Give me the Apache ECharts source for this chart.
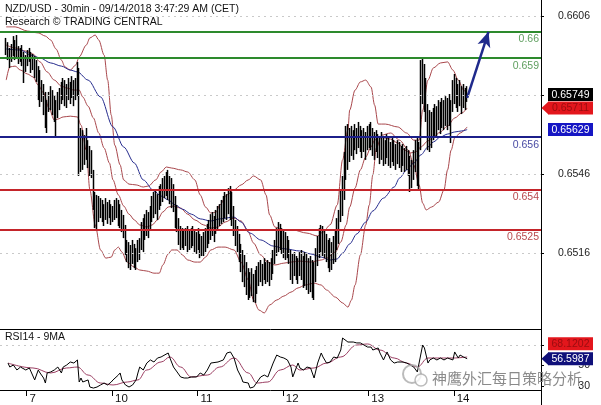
<!DOCTYPE html>
<html>
<head>
<meta charset="utf-8">
<script src="https://cdn.jsdelivr.net/npm/echarts@6/dist/echarts.min.js"></script>
<style>
html, body { margin: 0; padding: 0; background: #fff; }
#chart { width: 601px; height: 405px; }
</style>
</head>
<body>
<div id="chart"></div>
<script>
// ---- NZD/USD 30-minute bars (CET), first bar 09/06 18:00 ----
const firstBarTime = '09/06 18:00';
const firstOpen = 0.65960;

const highs = [
  0.65977, 0.65961, 0.65939, 0.65954, 0.65984, 0.65969, 0.65988, 0.65946, 0.65939, 0.65950,
  0.65924, 0.65912, 0.65931, 0.65939, 0.65924, 0.65916, 0.65908, 0.65893, 0.65870, 0.65855,
  0.65817, 0.65802, 0.65772, 0.65741, 0.65772, 0.65794, 0.65779, 0.65760, 0.65741, 0.65772,
  0.65787, 0.65810, 0.65825, 0.65817, 0.65802, 0.65825, 0.65810, 0.65832, 0.65817, 0.65825,
  0.65886, 0.65863, 0.65635, 0.65627, 0.65608, 0.65635, 0.65589, 0.65567, 0.65551, 0.65476,
  0.65392, 0.65381, 0.65377, 0.65369, 0.65362, 0.65346, 0.65369, 0.65354, 0.65362, 0.65346,
  0.65339, 0.65362, 0.65369, 0.65362, 0.65346, 0.65324, 0.65305, 0.65267, 0.65210, 0.65202,
  0.65191, 0.65210, 0.65195, 0.65179, 0.65210, 0.65217, 0.65278, 0.65293, 0.65308, 0.65324,
  0.65316, 0.65339, 0.65377, 0.65392, 0.65400, 0.65384, 0.65415, 0.65422, 0.65445, 0.65453,
  0.65468, 0.65476, 0.65453, 0.65445, 0.65422, 0.65377, 0.65343, 0.65293, 0.65263, 0.65255,
  0.65248, 0.65255, 0.65263, 0.65248, 0.65255, 0.65263, 0.65248, 0.65240, 0.65255, 0.65233,
  0.65225, 0.65240, 0.65255, 0.65271, 0.65286, 0.65308, 0.65316, 0.65301, 0.65324, 0.65339,
  0.65346, 0.65362, 0.65377, 0.65392, 0.65384, 0.65407, 0.65415, 0.65392, 0.65339, 0.65286,
  0.65263, 0.65233, 0.65195, 0.65172, 0.65153, 0.65126, 0.65103, 0.65088, 0.65103, 0.65081,
  0.65096, 0.65111, 0.65126, 0.65134, 0.65119, 0.65141, 0.65126, 0.65134, 0.65126, 0.65141,
  0.65172, 0.65210, 0.65255, 0.65278, 0.65271, 0.65255, 0.65248, 0.65240, 0.65225, 0.65210,
  0.65172, 0.65157, 0.65164, 0.65149, 0.65141, 0.65164, 0.65172, 0.65149, 0.65164, 0.65157,
  0.65141, 0.65149, 0.65134, 0.65126, 0.65179, 0.65225, 0.65255, 0.65267, 0.65263, 0.65248,
  0.65233, 0.65210, 0.65217, 0.65202, 0.65225, 0.65248, 0.65293, 0.65324, 0.65400, 0.65453,
  0.65544, 0.65643, 0.65650, 0.65635, 0.65643, 0.65627, 0.65650, 0.65635, 0.65658, 0.65643,
  0.65627, 0.65635, 0.65620, 0.65643, 0.65650, 0.65658, 0.65635, 0.65620, 0.65627, 0.65612,
  0.65605, 0.65620, 0.65605, 0.65589, 0.65612, 0.65597, 0.65582, 0.65597, 0.65589, 0.65574,
  0.65589, 0.65582, 0.65567, 0.65574, 0.65559, 0.65567, 0.65551, 0.65529, 0.65514, 0.65551,
  0.65589, 0.65597, 0.65582, 0.65893, 0.65901, 0.65878, 0.65825, 0.65726, 0.65703, 0.65696,
  0.65711, 0.65726, 0.65718, 0.65741, 0.65734, 0.65749, 0.65741, 0.65756, 0.65749, 0.65764,
  0.65741, 0.65817, 0.65840, 0.65825, 0.65802, 0.65817, 0.65794, 0.65802, 0.65787, 0.65794
];

const lows = [
  0.65912, 0.65893, 0.65863, 0.65886, 0.65908, 0.65893, 0.65901, 0.65878, 0.65886, 0.65870,
  0.65806, 0.65848, 0.65870, 0.65886, 0.65844, 0.65855, 0.65825, 0.65810, 0.65741, 0.65715,
  0.65734, 0.65684, 0.65635, 0.65616, 0.65696, 0.65703, 0.65684, 0.65658, 0.65597, 0.65673,
  0.65703, 0.65726, 0.65741, 0.65718, 0.65711, 0.65741, 0.65726, 0.65749, 0.65718, 0.65741,
  0.65756, 0.65453, 0.65468, 0.65476, 0.65495, 0.65514, 0.65483, 0.65453, 0.65445, 0.65324,
  0.65255, 0.65248, 0.65278, 0.65293, 0.65278, 0.65263, 0.65286, 0.65271, 0.65293, 0.65267,
  0.65278, 0.65286, 0.65293, 0.65263, 0.65255, 0.65240, 0.65217, 0.65153, 0.65126, 0.65103,
  0.65096, 0.65119, 0.65103, 0.65096, 0.65126, 0.65134, 0.65172, 0.65164, 0.65210, 0.65225,
  0.65217, 0.65248, 0.65278, 0.65293, 0.65308, 0.65286, 0.65324, 0.65339, 0.65354, 0.65369,
  0.65377, 0.65362, 0.65346, 0.65331, 0.65316, 0.65255, 0.65240, 0.65191, 0.65172, 0.65179,
  0.65172, 0.65187, 0.65164, 0.65172, 0.65179, 0.65187, 0.65164, 0.65157, 0.65172, 0.65141,
  0.65149, 0.65149, 0.65164, 0.65179, 0.65195, 0.65210, 0.65225, 0.65202, 0.65233, 0.65248,
  0.65263, 0.65271, 0.65278, 0.65293, 0.65286, 0.65308, 0.65286, 0.65263, 0.65225, 0.65187,
  0.65164, 0.65126, 0.65088, 0.65050, 0.65031, 0.65001, 0.64982, 0.64990, 0.64997, 0.64974,
  0.64971, 0.65005, 0.65035, 0.65050, 0.65035, 0.65058, 0.65043, 0.65050, 0.65035, 0.65058,
  0.65081, 0.65119, 0.65149, 0.65164, 0.65172, 0.65157, 0.65141, 0.65134, 0.65141, 0.65119,
  0.65058, 0.65043, 0.65073, 0.65058, 0.65043, 0.65073, 0.65058, 0.65028, 0.65035, 0.65020,
  0.65005, 0.65012, 0.64990, 0.64982, 0.65050, 0.65111, 0.65141, 0.65164, 0.65149, 0.65141,
  0.65126, 0.65103, 0.65088, 0.65096, 0.65119, 0.65126, 0.65172, 0.65195, 0.65278, 0.65301,
  0.65362, 0.65438, 0.65476, 0.65506, 0.65529, 0.65514, 0.65551, 0.65536, 0.65559, 0.65544,
  0.65521, 0.65544, 0.65514, 0.65551, 0.65559, 0.65551, 0.65529, 0.65514, 0.65544, 0.65521,
  0.65498, 0.65514, 0.65491, 0.65498, 0.65521, 0.65491, 0.65483, 0.65506, 0.65491, 0.65476,
  0.65498, 0.65483, 0.65468, 0.65491, 0.65468, 0.65476, 0.65453, 0.65392, 0.65407, 0.65438,
  0.65468, 0.65415, 0.65400, 0.65551, 0.65726, 0.65696, 0.65658, 0.65551, 0.65544, 0.65559,
  0.65589, 0.65605, 0.65597, 0.65627, 0.65612, 0.65635, 0.65627, 0.65643, 0.65627, 0.65643,
  0.65578, 0.65696, 0.65726, 0.65711, 0.65696, 0.65718, 0.65688, 0.65711, 0.65703, 0.65734
];

const closes = [
  0.65950, 0.65924, 0.65901, 0.65931, 0.65946, 0.65924, 0.65931, 0.65912, 0.65924, 0.65901,
  0.65855, 0.65886, 0.65908, 0.65916, 0.65886, 0.65893, 0.65855, 0.65848, 0.65787, 0.65760,
  0.65779, 0.65741, 0.65673, 0.65696, 0.65741, 0.65756, 0.65718, 0.65703, 0.65673, 0.65726,
  0.65756, 0.65772, 0.65787, 0.65760, 0.65749, 0.65779, 0.65772, 0.65794, 0.65764, 0.65787,
  0.65855, 0.65551, 0.65570, 0.65533, 0.65551, 0.65589, 0.65533, 0.65495, 0.65468, 0.65362,
  0.65305, 0.65324, 0.65343, 0.65331, 0.65316, 0.65308, 0.65339, 0.65308, 0.65331, 0.65301,
  0.65316, 0.65339, 0.65331, 0.65301, 0.65286, 0.65263, 0.65248, 0.65191, 0.65172, 0.65141,
  0.65126, 0.65153, 0.65134, 0.65141, 0.65172, 0.65195, 0.65248, 0.65255, 0.65278, 0.65293,
  0.65271, 0.65316, 0.65343, 0.65362, 0.65369, 0.65346, 0.65377, 0.65392, 0.65407, 0.65422,
  0.65430, 0.65415, 0.65400, 0.65377, 0.65362, 0.65308, 0.65278, 0.65225, 0.65210, 0.65217,
  0.65210, 0.65225, 0.65210, 0.65202, 0.65225, 0.65233, 0.65202, 0.65195, 0.65217, 0.65179,
  0.65187, 0.65195, 0.65217, 0.65240, 0.65255, 0.65271, 0.65286, 0.65263, 0.65293, 0.65308,
  0.65316, 0.65339, 0.65346, 0.65362, 0.65339, 0.65369, 0.65354, 0.65316, 0.65271, 0.65240,
  0.65210, 0.65172, 0.65126, 0.65096, 0.65073, 0.65050, 0.65028, 0.65043, 0.65050, 0.65020,
  0.65035, 0.65058, 0.65088, 0.65096, 0.65073, 0.65103, 0.65081, 0.65096, 0.65073, 0.65111,
  0.65141, 0.65179, 0.65217, 0.65233, 0.65225, 0.65210, 0.65187, 0.65179, 0.65172, 0.65149,
  0.65103, 0.65088, 0.65126, 0.65103, 0.65088, 0.65119, 0.65111, 0.65073, 0.65096, 0.65065,
  0.65050, 0.65073, 0.65043, 0.65028, 0.65111, 0.65172, 0.65210, 0.65225, 0.65202, 0.65187,
  0.65172, 0.65149, 0.65134, 0.65141, 0.65172, 0.65195, 0.65248, 0.65286, 0.65362, 0.65400,
  0.65495, 0.65589, 0.65597, 0.65589, 0.65605, 0.65567, 0.65612, 0.65589, 0.65620, 0.65597,
  0.65567, 0.65597, 0.65559, 0.65605, 0.65612, 0.65605, 0.65574, 0.65559, 0.65589, 0.65567,
  0.65551, 0.65567, 0.65544, 0.65551, 0.65574, 0.65536, 0.65529, 0.65559, 0.65536, 0.65521,
  0.65551, 0.65529, 0.65514, 0.65536, 0.65514, 0.65521, 0.65491, 0.65438, 0.65468, 0.65506,
  0.65551, 0.65514, 0.65551, 0.65848, 0.65855, 0.65741, 0.65703, 0.65605, 0.65627, 0.65635,
  0.65650, 0.65673, 0.65658, 0.65688, 0.65665, 0.65696, 0.65680, 0.65703, 0.65688, 0.65711,
  0.65696, 0.65772, 0.65787, 0.65756, 0.65741, 0.65772, 0.65741, 0.65756, 0.65749, 0.65749
];

// ---- Indicators as [bar number, value] ----
const bbUpper = [[0,0.66019],[5,0.66019],[12,0.66003],[18,0.65996],[22,0.65984],[25,0.65969],[28,0.65935],[31,0.65893],[33,0.65867],[36,0.65855],[39,0.65874],[41,0.65905],[45,0.65950],[47,0.65977],[50,0.65988],[52,0.65969],[55,0.65912],[57,0.65817],[59,0.65684],[61,0.65570],[64,0.65495],[66,0.65438],[69,0.65422],[73,0.65419],[77,0.65411],[80,0.65415],[84,0.65438],[87,0.65468],[90,0.65487],[93,0.65483],[98,0.65476],[102,0.65468],[106,0.65438],[109,0.65381],[112,0.65335],[115,0.65312],[118,0.65316],[120,0.65343],[124,0.65381],[128,0.65400],[132,0.65419],[136,0.65438],[139,0.65453],[143,0.65438],[146,0.65381],[148,0.65305],[151,0.65259],[156,0.65248],[161,0.65248],[169,0.65236],[175,0.65225],[178,0.65240],[182,0.65267],[186,0.65343],[189,0.65514],[192,0.65627],[193,0.65703],[196,0.65779],[199,0.65810],[202,0.65817],[205,0.65791],[207,0.65722],[209,0.65650],[213,0.65650],[220,0.65639],[225,0.65616],[229,0.65589],[232,0.65589],[234,0.65703],[237,0.65817],[240,0.65863],[244,0.65882],[248,0.65886],[251,0.65855],[254,0.65817],[257,0.65779],[259,0.65764]];

const bbMiddle = [[0,0.65950],[5,0.65939],[11,0.65927],[15,0.65916],[19,0.65886],[23,0.65848],[27,0.65817],[31,0.65794],[34,0.65787],[38,0.65779],[41,0.65779],[43,0.65753],[46,0.65718],[49,0.65673],[52,0.65616],[55,0.65559],[58,0.65502],[60,0.65438],[63,0.65381],[66,0.65339],[69,0.65308],[72,0.65286],[75,0.65267],[79,0.65259],[82,0.65267],[85,0.65286],[88,0.65316],[91,0.65335],[94,0.65339],[98,0.65331],[102,0.65308],[106,0.65286],[111,0.65267],[115,0.65255],[119,0.65259],[123,0.65278],[128,0.65293],[132,0.65282],[136,0.65240],[139,0.65198],[143,0.65153],[147,0.65126],[151,0.65115],[156,0.65122],[160,0.65126],[165,0.65130],[171,0.65126],[177,0.65134],[180,0.65141],[185,0.65164],[188,0.65202],[191,0.65267],[193,0.65335],[196,0.65407],[199,0.65476],[202,0.65525],[205,0.65563],[207,0.65589],[210,0.65601],[216,0.65593],[220,0.65578],[224,0.65551],[227,0.65540],[230,0.65544],[233,0.65563],[237,0.65586],[240,0.65601],[244,0.65620],[248,0.65643],[252,0.65673],[256,0.65692],[259,0.65711]];

const bbLower = [[0,0.65817],[2,0.65867],[5,0.65870],[8,0.65855],[12,0.65840],[15,0.65829],[18,0.65798],[21,0.65768],[24,0.65711],[27,0.65665],[29,0.65669],[32,0.65677],[36,0.65680],[40,0.65677],[42,0.65646],[45,0.65551],[47,0.65400],[50,0.65267],[53,0.65172],[56,0.65141],[59,0.65145],[61,0.65172],[63,0.65183],[65,0.65164],[68,0.65126],[72,0.65107],[75,0.65096],[79,0.65092],[83,0.65084],[86,0.65084],[88,0.65115],[91,0.65157],[93,0.65172],[96,0.65172],[99,0.65153],[102,0.65134],[106,0.65126],[109,0.65126],[112,0.65145],[115,0.65172],[119,0.65183],[123,0.65183],[128,0.65172],[132,0.65126],[136,0.65058],[139,0.64982],[142,0.64944],[145,0.64933],[148,0.64963],[152,0.64982],[156,0.64997],[160,0.65012],[164,0.65028],[168,0.65039],[173,0.65046],[177,0.65039],[180,0.65020],[185,0.64993],[189,0.64971],[192,0.64955],[194,0.64982],[196,0.65039],[199,0.65153],[202,0.65267],[204,0.65343],[206,0.65457],[208,0.65559],[211,0.65608],[216,0.65616],[221,0.65589],[226,0.65551],[229,0.65495],[232,0.65419],[234,0.65350],[236,0.65324],[239,0.65335],[243,0.65354],[246,0.65400],[248,0.65476],[250,0.65551],[252,0.65597],[255,0.65616],[259,0.65639]];

const movingAvg = [[0,0.65935],[8,0.65931],[14,0.65912],[19,0.65901],[25,0.65882],[31,0.65870],[36,0.65855],[40,0.65848],[46,0.65817],[53,0.65753],[60,0.65639],[66,0.65563],[72,0.65502],[77,0.65438],[83,0.65396],[87,0.65377],[91,0.65362],[95,0.65343],[99,0.65327],[104,0.65308],[109,0.65290],[115,0.65282],[120,0.65290],[128,0.65297],[132,0.65278],[137,0.65236],[143,0.65210],[150,0.65187],[157,0.65176],[165,0.65168],[171,0.65157],[177,0.65145],[182,0.65134],[186,0.65138],[189,0.65160],[193,0.65195],[197,0.65233],[202,0.65278],[206,0.65320],[212,0.65369],[218,0.65411],[221,0.65445],[225,0.65476],[229,0.65502],[233,0.65533],[237,0.65563],[240,0.65582],[244,0.65601],[248,0.65612],[252,0.65620],[256,0.65624],[259,0.65629]];

const rsi14 = [[1,52.4],[2,48.5],[4,50.5],[6,45.6],[8,48.5],[11,45.6],[13,47.6],[14,43.7],[16,35.9],[18,45.6],[19,42.7],[21,37.8],[22,32.9],[23,42.7],[25,43.7],[27,45.6],[29,48.5],[31,42.7],[32,48.5],[34,50.5],[36,53.4],[38,52.4],[40,55.4],[41,33.9],[42,37.8],[43,33.9],[46,35.9],[47,29.0],[49,28.0],[51,29.0],[53,31.0],[55,32.9],[57,31.0],[59,33.9],[60,35.9],[63,40.7],[64,42.7],[65,35.9],[67,31.0],[69,29.0],[71,31.0],[73,35.9],[74,42.7],[75,48.5],[77,45.6],[79,52.4],[81,55.4],[83,53.4],[85,57.3],[87,58.3],[88,60.2],[91,62.2],[92,57.3],[94,48.5],[96,43.7],[98,38.8],[100,37.8],[102,37.8],[104,38.8],[105,40.7],[107,38.8],[109,42.7],[111,40.7],[113,45.6],[115,52.4],[116,50.5],[119,53.4],[120,52.4],[122,55.4],[124,62.2],[126,63.2],[128,57.3],[130,45.6],[132,38.8],[133,33.9],[136,32.9],[137,28.0],[139,29.0],[141,33.9],[143,38.8],[145,40.7],[147,38.8],[148,40.7],[150,52.4],[152,60.2],[154,58.3],[156,57.3],[158,55.4],[160,48.5],[161,38.8],[164,52.4],[165,47.6],[167,45.6],[169,48.5],[171,47.6],[173,37.8],[175,52.4],[177,62.2],[178,58.3],[180,52.4],[182,53.4],[184,58.3],[186,57.3],[188,65.1],[189,76.8],[192,72.9],[193,72.0],[195,72.9],[197,72.0],[199,72.0],[201,70.0],[203,68.0],[205,68.0],[206,65.1],[209,67.1],[210,62.2],[212,55.4],[214,63.2],[216,55.4],[218,52.4],[220,53.4],[221,52.4],[223,53.4],[225,52.4],[227,50.5],[229,48.5],[231,43.7],[232,45.6],[234,70.0],[235,67.1],[237,52.4],[238,55.4],[240,57.3],[242,55.4],[244,57.3],[246,55.4],[248,57.3],[251,55.4],[252,63.2],[254,57.3],[255,60.2],[257,58.3],[259,56.5987]];

const rsiMa9 = [[1,52.4],[15,47.6],[25,42.7],[34,47.6],[40,48.5],[46,40.7],[53,32.9],[60,31.0],[68,33.9],[74,35.9],[79,45.6],[87,53.4],[92,58.3],[98,48.5],[104,38.8],[113,40.7],[120,48.5],[128,57.3],[136,42.7],[141,32.9],[147,33.9],[154,45.6],[161,50.5],[165,45.6],[173,47.6],[180,52.4],[188,58.3],[197,70.0],[203,71.0],[210,65.1],[218,57.3],[225,52.4],[231,48.5],[237,57.3],[244,57.3],[251,57.3],[259,58.3]];

// ---- Levels, ticks, tags ----
const levels = [0.66, 0.659, 0.656, 0.654, 0.6525];
const levelLineColors = ['#2d8a2d', '#2d8a2d', '#1c1f8a', '#c4242a', '#c4242a'];
const levelTextColors = ['#5f9f5f', '#5f9f5f', '#4a4ca4', '#b84a4e', '#b84a4e'];
const priceTicks = [0.6516, 0.6546, 0.6576, 0.6606];
const rsiTicks = [30, 50, 70];
const rsiUpperTag = 68.1202;
const targetPrice = 0.66;
const targetBarsAhead = 12;

// ---- Time slots: 30-minute steps, weekends skipped ----
function pad(n) { return String(n).padStart(2, '0'); }
function buildSlots(startMs, count) {
  const out = [];
  let t = startMs;
  while (out.length < count) {
    const d = new Date(t);
    const wd = d.getUTCDay();
    if (wd !== 0 && wd !== 6) {
      out.push(pad(d.getUTCMonth() + 1) + '/' + pad(d.getUTCDate()) + ' ' + pad(d.getUTCHours()) + ':' + pad(d.getUTCMinutes()));
    }
    t += 30 * 60 * 1000;
  }
  return out;
}
const slots = buildSlots(Date.UTC(2018, 8, 6, 16, 30), 304);
const offset = slots.indexOf(firstBarTime);
const lastBar = offset + closes.length - 1;

const candles = slots.map((_, k) => {
  const i = k - offset;
  if (i < 0 || i >= closes.length) return '-';
  const open = i ? closes[i - 1] : firstOpen;
  return [open, closes[i], lows[i], highs[i]];
});
const shift = pts => pts.map(p => [p[0] + offset, p[1]]);

const FONT = '"Liberation Sans", Arial, sans-serif';
const isDayStart = (idx, val) => idx <= lastBar && /00:00$/.test(val);

const chart = echarts.init(document.getElementById('chart'), null, { renderer: 'canvas' });

const bandLine = (name, data) => ({
  name, type: 'line', data: shift(data), xAxisIndex: 0, yAxisIndex: 0,
  showSymbol: false, smooth: 0.3, smoothMonotone: 'x', silent: true,
  lineStyle: { color: '#a9474c', width: 1 }, z: 2
});

const option = {
  animation: false,
  backgroundColor: '#fff',
  grid: [
    { left: 0, right: 60, top: 0, height: 329 },
    { left: 0, right: 60, top: 329, height: 61 }
  ],
  xAxis: [
    {
      type: 'category', gridIndex: 0, data: slots, boundaryGap: true,
      axisLine: { lineStyle: { color: '#000', width: 1 } },
      axisTick: { show: false }, axisLabel: { show: false }, splitLine: { show: false }
    },
    {
      type: 'category', gridIndex: 1, data: slots, boundaryGap: true,
      axisLine: { lineStyle: { color: '#000', width: 1 } },
      axisTick: { show: true, interval: isDayStart, length: 6, lineStyle: { color: '#000' } },
      axisLabel: {
        interval: isDayStart, align: 'left', padding: [0, 0, 0, 2], margin: 3,
        formatter: v => String(parseInt(v.slice(3, 5), 10)),
        color: '#111', fontSize: 11.5, fontFamily: FONT
      },
      splitLine: { show: false }
    }
  ],
  yAxis: [
    {
      type: 'value', gridIndex: 0, position: 'right', min: 0.64872, max: 0.66121, scale: true,
      axisLine: { show: true, lineStyle: { color: '#000' } },
      axisTick: { show: true, length: 3, customValues: priceTicks, lineStyle: { color: '#000' } },
      axisLabel: {
        customValues: priceTicks, formatter: v => v.toFixed(4), align: 'right', margin: 49,
        color: '#222', fontSize: 10.5, fontFamily: FONT
      },
      splitLine: { show: false }
    },
    {
      type: 'value', gridIndex: 1, position: 'right', min: 26.1, max: 85.6,
      axisLine: { show: true, lineStyle: { color: '#000' } },
      axisTick: { show: true, length: 3, customValues: rsiTicks, lineStyle: { color: '#000' } },
      axisLabel: {
        customValues: rsiTicks, formatter: v => String(v), align: 'right', margin: 49,
        color: '#222', fontSize: 10.5, fontFamily: FONT
      },
      splitLine: { show: false }
    }
  ],
  series: [
    {
      name: 'NZD/USD', type: 'candlestick', data: candles, xAxisIndex: 0, yAxisIndex: 0,
      barWidth: 0.6, silent: true, z: 3,
      itemStyle: { color: '#000', color0: '#000', borderColor: '#000', borderColor0: '#000', borderWidth: 1.5 }
    },
    Object.assign(bandLine('BB upper', bbUpper), {
      markLine: {
        silent: true, animation: false, precision: 6,
        lineStyle: { color: '#1f2a8c', width: 2.5, type: 'solid' },
        label: { show: false },
        data: [[
          { coord: [lastBar, closes[closes.length - 1]], symbol: 'none' },
          { coord: [lastBar + targetBarsAhead, targetPrice], symbol: 'arrow', symbolSize: [10, 15] }
        ]]
      }
    }),
    bandLine('BB middle', bbMiddle),
    Object.assign(bandLine('BB lower', bbLower), {
      markLine: {
        silent: true, symbol: 'none', animation: false, precision: 6, z: 4,
        data: levels.map((v, k) => ({
          yAxis: v,
          lineStyle: { color: levelLineColors[k], width: 2, type: 'solid' },
          label: {
            show: true, position: 'insideEndBottom', formatter: String(v), distance: [2, 2],
            color: levelTextColors[k], fontSize: 10.5, fontFamily: FONT
          }
        }))
      }
    }),
    {
      name: 'MA', type: 'line', data: shift(movingAvg), xAxisIndex: 0, yAxisIndex: 0,
      showSymbol: false, smooth: 0.3, smoothMonotone: 'x', silent: true,
      lineStyle: { color: '#262c8e', width: 1 }, z: 2,
      markLine: {
        silent: true, symbol: 'none', animation: false, precision: 6, label: { show: false },
        lineStyle: { color: '#c9c9c9', width: 1, type: [2, 4] },
        data: priceTicks.map(v => ({ yAxis: v }))
      }
    },
    {
      name: 'RSI14', type: 'line', data: shift(rsi14), xAxisIndex: 1, yAxisIndex: 1,
      showSymbol: false, silent: true, lineStyle: { color: '#000', width: 1 }, z: 3
    },
    {
      name: '9MA', type: 'line', data: shift(rsiMa9), xAxisIndex: 1, yAxisIndex: 1,
      showSymbol: false, smooth: 0.4, smoothMonotone: 'x', silent: true,
      lineStyle: { color: '#9c3f63', width: 1 }, z: 2,
      markLine: {
        silent: true, symbol: 'none', animation: false, precision: 4, label: { show: false },
        lineStyle: { color: '#c9c9c9', width: 1, type: [2, 4] },
        data: [{ yAxis: 70 }]
      }
    }
  ]
};
chart.setOption(option);

// ---- Value tags on the price and RSI scales ----
function spread(tags, gap) {
  tags.sort((a, b) => a.y - b.y);
  for (let k = tags.length - 2; k >= 0; k--) {
    if (tags[k].y > tags[k + 1].y - gap) tags[k].y = tags[k + 1].y - gap;
  }
  return tags;
}
function tagShapes(t) {
  const h = 13, x0 = 548, w = 45;
  const els = [{ type: 'rect', shape: { x: x0, y: t.y - h / 2, width: w, height: h }, style: { fill: t.bg }, z: 100 }];
  if (t.pointer) {
    els.push({ type: 'polygon', shape: { points: [[541.5, t.y], [x0 + 0.5, t.y - h / 2], [x0 + 0.5, t.y + h / 2]] }, style: { fill: t.bg }, z: 100 });
  }
  els.push({
    type: 'text', z: 101,
    style: { x: x0 + w / 2, y: t.y + 0.5, text: t.text, fill: t.fg, font: '10.5px ' + FONT, align: 'center', verticalAlign: 'middle' }
  });
  return els;
}
const lastClose = closes[closes.length - 1];
const lastMid = bbMiddle[bbMiddle.length - 1][1];
const lastMa = movingAvg[movingAvg.length - 1][1];
const lastRsi = rsi14[rsi14.length - 1][1];
const pY = v => chart.convertToPixel({ yAxisIndex: 0 }, v);
const rY = v => chart.convertToPixel({ yAxisIndex: 1 }, v);

const priceTags = spread([
  { y: pY(lastClose), bg: '#000', fg: '#fff', text: lastClose.toFixed(5) },
  { y: pY(lastMid), bg: '#e3161c', fg: '#9a0d10', text: lastMid.toFixed(5), pointer: true },
  { y: pY(lastMa), bg: '#1616c4', fg: '#fff', text: lastMa.toFixed(5) }
], 13.5);
const rsiTags = spread([
  { y: rY(rsiUpperTag), bg: '#e3161c', fg: '#9a0d10', text: rsiUpperTag.toFixed(4) },
  { y: rY(lastRsi), bg: '#10107a', fg: '#fff', text: lastRsi.toFixed(4), pointer: true }
], 15);

const graphics = [];
priceTags.concat(rsiTags).forEach(t => tagShapes(t).forEach(e => graphics.push(e)));

// headings
graphics.push(
  { type: 'text', z: 50, style: { x: 5, y: 4, text: 'NZD/USD - 30min - 09/14/2018 3:47:29 AM (CET)', fill: '#111', font: '10.5px ' + FONT } },
  { type: 'text', z: 50, style: { x: 5, y: 17, text: 'Research © TRADING CENTRAL', fill: '#111', font: '10.5px ' + FONT } },
  { type: 'text', z: 50, style: { x: 5, y: 332, text: 'RSI14 - 9MA', fill: '#111', font: '10.5px ' + FONT } },
  // right scale continues to the bottom edge
  { type: 'line', z: 50, shape: { x1: 541.5, y1: 390, x2: 541.5, y2: 405 }, style: { stroke: '#000', lineWidth: 1 } }
);

// publisher mark
graphics.push(
  { type: 'circle', z: 60, shape: { cx: 412, cy: 374, r: 9 }, style: { fill: 'none', stroke: 'rgba(170,170,170,0.8)', lineWidth: 2 } },
  { type: 'circle', z: 60, shape: { cx: 421, cy: 380, r: 6 }, style: { fill: 'rgba(255,255,255,0.8)', stroke: 'rgba(170,170,170,0.8)', lineWidth: 1.5 } },
  { type: 'text', z: 60, style: { x: 432, y: 378, text: '神鹰外汇每日策略分析', fill: 'rgba(125,125,125,0.9)', font: '15px "Noto Sans CJK SC", sans-serif', verticalAlign: 'middle' } }
);

chart.setOption({ graphic: graphics });
</script>
</body>
</html>
